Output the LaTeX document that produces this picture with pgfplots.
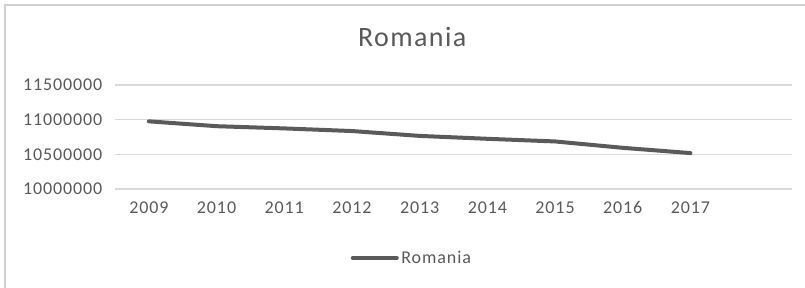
\documentclass[border=0pt]{standalone}
\usepackage{pgfplots}
\pgfplotsset{compat=1.18}
\usepackage{fontspec}
\setmainfont{Carlito}
\newfontfamily\spaced[LetterSpace=5]{Carlito}
\definecolor{txt}{HTML}{595959}
\definecolor{grd}{HTML}{D9D9D9}
\definecolor{ln}{HTML}{5A5A5A}
\definecolor{frm}{HTML}{D0D0D0}
\begin{document}
\begin{tikzpicture}
\path[use as bounding box] (0,0) rectangle (603.75pt,215.25pt);
\draw[frm, line width=1.2pt] ({5*0.75pt},-5pt) -- ({5*0.75pt},{(287-5)*0.75pt}) -- (620pt,{(287-5)*0.75pt});
\begin{axis}[
  at={({115*0.75pt},{98*0.75pt})}, anchor=south west,
  scale only axis,
  width={677*0.75pt}, height={104*0.75pt},
  xmin=-0.5, xmax=9.5,
  ymin=10000000, ymax=11500000,
  scaled y ticks=false,
  ytick={10000000,10500000,11000000,11500000},
  yticklabels={10000000,10500000,11000000,11500000},
  xtick={0,...,8},
  xticklabels={2009,2010,2011,2012,2013,2014,2015,2016,2017},
  axis line style={draw=none},
  major tick length=0pt,
  ymajorgrids, grid style={grd, line width=1pt},
  tick label style={font=\spaced\fontsize{13.5}{15}\selectfont, text=txt},
  yticklabel style={xshift={-6pt}},
  xticklabel style={yshift={-6pt}},
  title={Romania},
  title style={at={(axis description cs:0.439,1.385)}, anchor=center, font=\spaced\fontsize{21}{24}\selectfont, text=txt},
  legend style={at={(axis description cs:0.439,-0.663)}, anchor=center, draw=none, fill=none, font=\spaced\fontsize{13.5}{15}\selectfont, text=txt, inner sep=0pt},
  legend image code/.code={\draw[#1, line cap=round] (0pt,0pt) -- (33pt,0pt);},
  clip=false,
]
\addplot[ln, line width=3pt, line cap=round, line join=round] coordinates {
  (0,10976000) (1,10906000) (2,10874000) (3,10836000) (4,10766000)
  (5,10724000) (6,10686000) (7,10594000) (8,10518000)
};
\addlegendentry{Romania}
\end{axis}
\end{tikzpicture}
\end{document}
